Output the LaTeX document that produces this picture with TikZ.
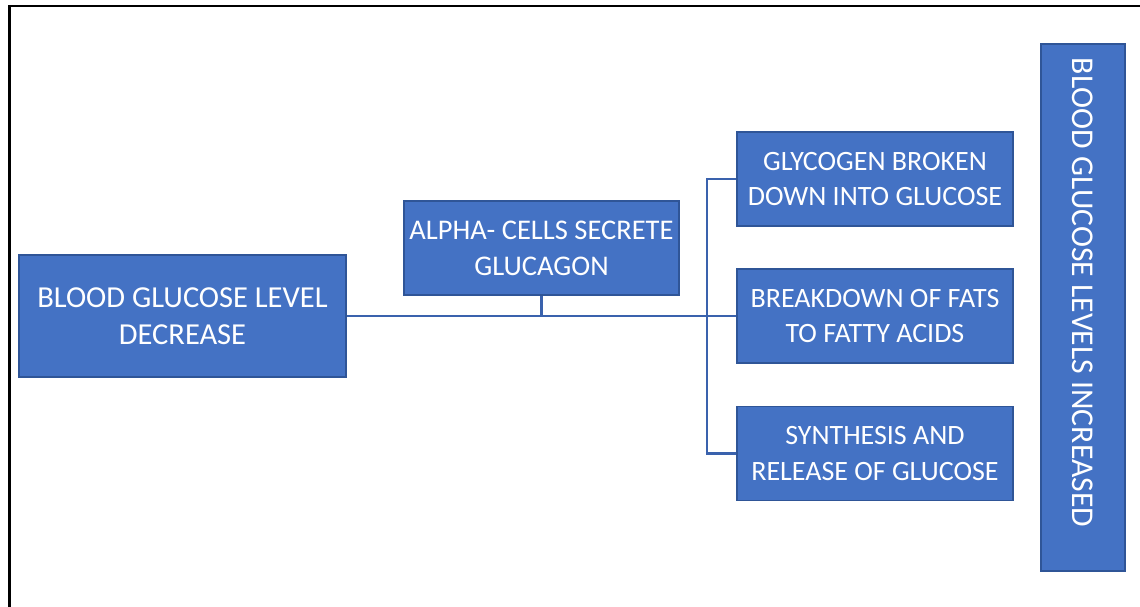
\documentclass[tikz,border=0pt]{standalone}
\usepackage{fontspec}
\setmainfont{Carlito}
\definecolor{boxfill}{HTML}{4472C4}
\definecolor{boxedge}{HTML}{2F5597}
\definecolor{linkcol}{HTML}{3A62AD}
\begin{document}
\begin{tikzpicture}[x=1pt,y=-1pt,
  stepbox/.style={draw=boxedge, line width=1.2pt, fill=boxfill, text=white,
    align=center, inner sep=0pt},
  link/.style={draw=linkcol, line width=2.8pt}]
\useasboundingbox (0,0) rectangle (1140,607);
\clip (0,0) rectangle (1140,607);
% outer frame
\draw[line width=2.8pt, black] (9.5,620) -- (9.5,6) -- (1150,6);
% boxes
\node[stepbox, minimum width=327pt, minimum height=122pt,
  font=\fontsize{30.5}{37}\selectfont] (dec) at (182.5,316)
  {BLOOD GLUCOSE LEVEL\\DECREASE};
\node[stepbox, minimum width=275pt, minimum height=94pt,
  font=\fontsize{28.5}{36}\selectfont] (alpha) at (541.5,248)
  {ALPHA- CELLS SECRETE\\GLUCAGON};
\node[stepbox, minimum width=276pt, minimum height=94pt,
  font=\fontsize{28}{35.5}\selectfont] (gly) at (875,179)
  {GLYCOGEN BROKEN\\DOWN INTO GLUCOSE};
\node[stepbox, minimum width=276pt, minimum height=94pt,
  font=\fontsize{28}{35.5}\selectfont] (fat) at (875,316)
  {BREAKDOWN OF FATS\\TO FATTY ACIDS};
\node[stepbox, minimum width=276pt, minimum height=94pt,
  font=\fontsize{28}{35.5}\selectfont] (syn) at (875,453.5)
  {SYNTHESIS AND\\RELEASE OF GLUCOSE};
\node[stepbox, rotate=-90, text width=499pt, inner xsep=14pt, align=flush left,
  minimum height=84pt, font=\fontsize{31.7}{38}\selectfont] (inc) at (1083,307.5)
  {BLOOD GLUCOSE LEVELS INCREASED};
% connectors
\coordinate (j) at (707,316);
\coordinate (ja) at (alpha.south |- j);
\coordinate (jt) at (j |- gly.west);
\coordinate (jb) at (j |- syn.west);
\draw[link] (dec.east) -- (j) -- (fat.west);
\draw[link] (alpha.south) -- (ja);
\draw[link] (gly.west) -- (jt) -- (jb) -- (syn.west);
\end{tikzpicture}
\end{document}
